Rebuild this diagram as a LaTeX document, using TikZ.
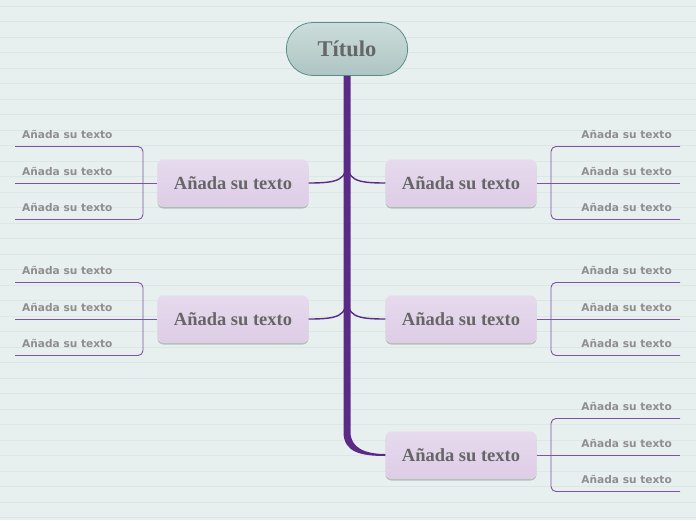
\documentclass[tikz,border=0pt]{standalone}
\usepackage{fontspec}
\setmainfont{Liberation Serif}
\newfontfamily\leaffont{DejaVu Sans}
\usepackage{tikz}
\usetikzlibrary{shapes.misc,shadows}
\definecolor{paper}{HTML}{E8F0EF}
\definecolor{ruling}{HTML}{DCE6E4}
\definecolor{trunkpurple}{HTML}{5B2A86}
\definecolor{twig}{HTML}{7E52A8}
\definecolor{inkgray}{HTML}{666666}
\definecolor{leafgray}{HTML}{8E8E8E}
\definecolor{titletop}{HTML}{CCDDDB}
\definecolor{titlebot}{HTML}{AEC5C3}
\definecolor{titleline}{HTML}{5A8E8C}
\definecolor{topictop}{HTML}{E6DAED}
\definecolor{topicbot}{HTML}{DDCDE6}

\begin{document}
\begin{tikzpicture}[x=1pt, y=-1pt,
  title/.style={rounded rectangle, minimum width=128pt, minimum height=53pt,
                top color=titletop, bottom color=titlebot, draw=titleline, line width=0.8pt,
                font=\bfseries\fontsize{22.5}{24}\selectfont, text=inkgray},
  topic/.style={rectangle, rounded corners=6pt, minimum width=151pt, minimum height=47pt,
                top color=topictop, bottom color=topicbot, draw=topictop!80!white,
                drop shadow={shadow xshift=0pt, shadow yshift=-2pt, opacity=.45},
                font=\bfseries\fontsize{18.5}{20}\selectfont, text=inkgray},
  leaf/.style={font=\leaffont\bfseries\fontsize{10.6}{12}\selectfont, text=leafgray, inner sep=0pt},
  branch/.style={trunkpurple, line width=1.4pt},
  sub/.style={twig, line width=0.9pt}]
  % paper
  \fill[paper] (0,0) rectangle (696,520);
  \useasboundingbox (0,0) rectangle (696,520);
  \foreach \k in {0,...,33}
    \draw[ruling, line width=0.7pt] (0,6+15.5*\k) -- (696,6+15.5*\k);

  % main nodes
  \node[title] (title) at (347,49) {Título};
  \node[topic] (nl1) at (233,183) {Añada su texto};
  \node[topic] (nl2) at (233,319) {Añada su texto};
  \node[topic] (nr1) at (461,183) {Añada su texto};
  \node[topic] (nr2) at (461,319) {Añada su texto};
  \node[topic] (nr3) at (461,455) {Añada su texto};

  % trunk
  \coordinate (tl) at (343.5,432);
  \coordinate (tr) at (350.5,432);
  \fill[trunkpurple] ([xshift=-3.5pt]title.south) -- (tl)
    .. controls +(0,20) and +(-25,0) .. ([yshift=-1pt]nr3.west)
    -- ([yshift=1pt]nr3.west) .. controls +(-20,0) and +(0,16) .. (tr)
    -- ([xshift=3.5pt]title.south) -- cycle;

  % branches
  \coordinate (j1) at (347,160);
  \coordinate (j2) at (347,296);
  \draw[branch] (nl1.east) .. controls +(30,0) and +(0,20) .. (j1);
  \draw[branch] (nr1.west) .. controls +(-30,0) and +(0,20) .. (j1);
  \draw[branch] (nl2.east) .. controls +(30,0) and +(0,20) .. (j2);
  \draw[branch] (nr2.west) .. controls +(-30,0) and +(0,20) .. (j2);

  % subtopics, left
  \foreach \n/\y in {nl1/183, nl2/319} {
    \foreach \d [count=\i] in {-36.5,0,36.5} {
      \coordinate (\n e\i) at (15,\y+\d);
      \node[leaf, anchor=base west] (\n t\i) at (22,\y+\d-8) {Añada su texto};
    }
    \coordinate (\n b) at (143,\y);
    \draw[sub, rounded corners=5pt] (\n e1) -| (\n b) |- (\n e3);
    \draw[sub] (\n.west) -- (\n e2);
  }
  % subtopics, right
  \foreach \n/\y in {nr1/183, nr2/319, nr3/455} {
    \foreach \d [count=\i] in {-36.5,0,36.5} {
      \coordinate (\n e\i) at (680,\y+\d);
      \node[leaf, anchor=base east] (\n t\i) at (672,\y+\d-8) {Añada su texto};
    }
    \coordinate (\n b) at (551,\y);
    \draw[sub, rounded corners=5pt] (\n e1) -| (\n b) |- (\n e3);
    \draw[sub] (\n.east) -- (\n e2);
  }
\end{tikzpicture}
\end{document}
